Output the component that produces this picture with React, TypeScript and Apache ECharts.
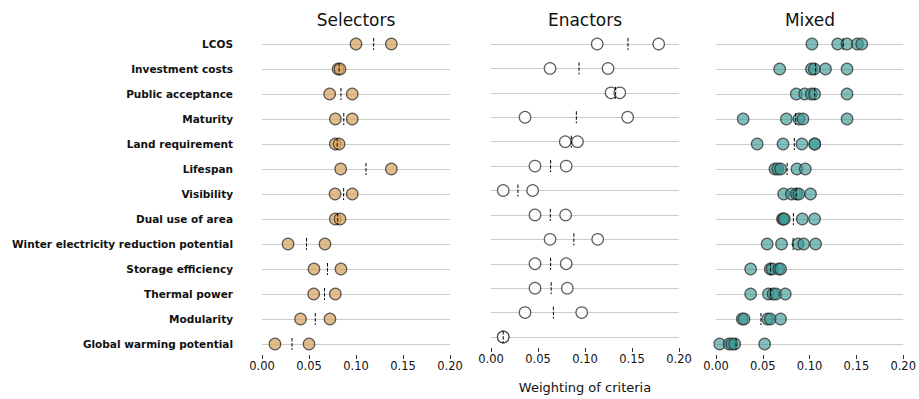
import React, { useEffect, useRef } from "react";
import * as echarts from "echarts";

const criteria = [
  "LCOS",
  "Investment costs",
  "Public acceptance",
  "Maturity",
  "Land requirement",
  "Lifespan",
  "Visibility",
  "Dual use of area",
  "Winter electricity reduction potential",
  "Storage efficiency",
  "Thermal power",
  "Modularity",
  "Global warming potential",
];

const panelTitles = ["Selectors", "Enactors", "Mixed"];
const xTicks = [0, 0.05, 0.1, 0.15, 0.2];

const selectors: number[][] = [
  [0.1, 0.1376],
  [0.081, 0.083],
  [0.072, 0.096],
  [0.078, 0.096],
  [0.078, 0.082],
  [0.0837, 0.1376],
  [0.0777, 0.096],
  [0.078, 0.083],
  [0.0277, 0.067],
  [0.0553, 0.084],
  [0.055, 0.078],
  [0.041, 0.0723],
  [0.0138, 0.05],
];

const enactors: number[][] = [
  [0.113, 0.1784],
  [0.0628, 0.1245],
  [0.1277, 0.137],
  [0.0362, 0.1454],
  [0.079, 0.092],
  [0.0468, 0.08],
  [0.013, 0.0443],
  [0.0468, 0.0794],
  [0.0628, 0.1135],
  [0.0468, 0.08],
  [0.0468, 0.0812],
  [0.0362, 0.0965],
  [0.013, 0.013],
];

const mixed: number[][] = [
  [0.1025, 0.13, 0.14, 0.151, 0.1557],
  [0.068, 0.102, 0.105, 0.117, 0.14],
  [0.0858, 0.0947, 0.1018, 0.1053, 0.14],
  [0.029, 0.0752, 0.0887, 0.0929, 0.14],
  [0.044, 0.0716, 0.0918, 0.1055, 0.1055],
  [0.063, 0.066, 0.069, 0.0865, 0.0954],
  [0.0723, 0.0805, 0.086, 0.0885, 0.101],
  [0.071, 0.072, 0.073, 0.0922, 0.1053],
  [0.0546, 0.07, 0.0876, 0.0936, 0.1064],
  [0.037, 0.058, 0.06, 0.067, 0.069],
  [0.037, 0.056, 0.061, 0.064, 0.074],
  [0.028, 0.03, 0.055, 0.058, 0.069],
  [0.004, 0.014, 0.017, 0.02, 0.052],
];

const panelData = [selectors, enactors, mixed];
const panelFill = ["rgba(216,162,94,0.9)", "#ffffff", "rgba(56,152,148,0.8)"];
const panelLeft = [262, 491, 716];
const FONT = "DejaVu Sans";

export default function App() {
  const ref = useRef<HTMLDivElement>(null);
  useEffect(() => {
    if (!ref.current) return;
    const chart = echarts.init(ref.current, null, { renderer: "svg" });
    const grids: any[] = [];
    const xAxes: any[] = [];
    const yAxes: any[] = [];
    const series: any[] = [];
    panelData.forEach((rows, p) => {
      grids.push({ left: panelLeft[p], width: 188, top: 44, height: 300, containLabel: false });
      xAxes.push({
        gridIndex: p,
        type: "value",
        min: xTicks[0],
        max: xTicks[xTicks.length - 1],
        interval: 0.05,
        offset: 11,
        axisLine: { show: false },
        axisTick: { show: true, length: 4, lineStyle: { color: "#333" } },
        splitLine: { show: false },
        axisLabel: {
          margin: 5,
          fontFamily: FONT,
          fontSize: 11.5,
          color: "#111",
          formatter: (v: number) => v.toFixed(2),
        },
        name: p === 1 ? "Weighting of criteria" : "",
        nameLocation: "middle",
        nameGap: 33,
        nameTextStyle: { fontFamily: FONT, fontSize: 13, color: "#111" },
      });
      yAxes.push({
        gridIndex: p,
        type: "category",
        data: criteria,
        inverse: true,
        boundaryGap: false,
        axisLine: { show: false },
        axisTick: { show: false },
        splitLine: { show: true, lineStyle: { color: "#cccccc", width: 1 } },
        axisLabel: {
          show: p === 0,
          margin: 29,
          fontFamily: FONT,
          fontWeight: "bold",
          fontSize: 10.5,
          color: "#111",
        },
      });
      const pts: number[][] = [];
      rows.forEach((vals, i) => vals.forEach((v) => pts.push([v, i])));
      series.push({
        type: "scatter",
        xAxisIndex: p,
        yAxisIndex: p,
        data: pts,
        symbol: "circle",
        symbolSize: 11.5,
        itemStyle: { color: panelFill[p], borderColor: "#333", borderWidth: 1.2 },
        z: 2,
      });
      const means = rows.map((vals, i) => [vals.reduce((a, b) => a + b, 0) / vals.length, i]);
      series.push({
        type: "custom",
        xAxisIndex: p,
        yAxisIndex: p,
        data: means,
        encode: { x: 0, y: 1 },
        z: 3,
        renderItem: (params: any, api: any) => {
          const c = api.coord([api.value(0), api.value(1)]);
          return {
            type: "line",
            shape: { x1: c[0], y1: c[1] - 6, x2: c[0], y2: c[1] + 6 },
            style: { stroke: "#000", lineWidth: 1, lineDash: [3.5, 1.6] },
          };
        },
      });
    });
    chart.setOption({
      animation: false,
      backgroundColor: "#fff",
      grid: grids,
      xAxis: xAxes,
      yAxis: yAxes,
      series,
      graphic: panelTitles.map((t, p) => ({
        type: "text",
        x: panelLeft[p] + 94,
        y: 20,
        style: {
          text: t,
          fontFamily: FONT,
          fontSize: 17,
          fill: "#111",
          align: "center",
          verticalAlign: "middle",
        },
      })),
    });
    return () => chart.dispose();
  }, []);
  return (
    <div
      ref={ref}
      style={{ position: "absolute", left: 0, top: 0, width: 919, height: 399 }}
    />
  );
}
